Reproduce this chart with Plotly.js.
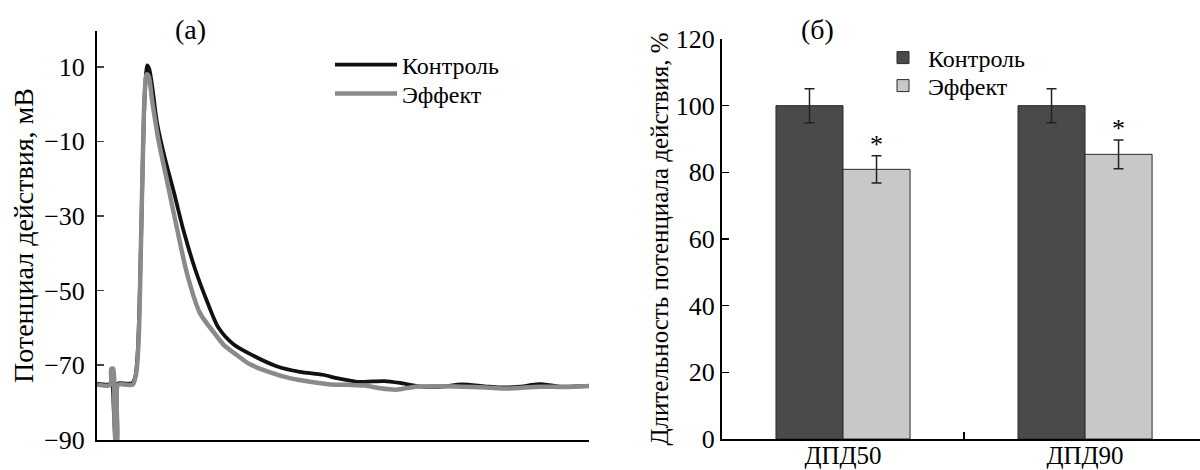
<!DOCTYPE html>
<html>
<head>
<meta charset="utf-8">
<script src="https://cdn.plot.ly/plotly-3.0.1.min.js"></script>
<style>html,body{margin:0;padding:0;background:#fff}#chart{width:1200px;height:470px}</style>
</head>
<body>
<div id="chart"></div>
<script>
// ---- Panel (a): action potential traces (time in relative units 0..100) ----
const controlT = [0, 2.9, 3.1, 3.4, 3.8, 4.0, 4.2, 6.0, 7.2, 7.8, 8.3, 8.7, 9.1, 9.5, 9.9, 10.2, 10.6, 11.2, 12.2, 13.7, 15.7, 17.6, 20.0, 22.4, 24.7, 27.8, 31.8, 36.5, 41.2, 45.9, 49.0, 52.9, 56.0, 58.4, 61.6, 65.5, 70.0, 74.1, 78.8, 82.0, 86.0, 89.8, 94.5, 100];
const controlV = [-75, -75, -72, -82, -90.5, -80, -75, -75, -74.8, -73, -66, -50, -28, -5, 7, 10.4, 9.5, 5, -5, -14, -24, -34, -44.5, -53, -60, -64.5, -67.5, -70.3, -71.8, -72.6, -73.6, -74.5, -74.4, -74.3, -74.8, -75.7, -75.8, -75.2, -75.7, -76, -75.8, -75.1, -75.8, -75.6];
const effectT = [0, 2.7, 2.9, 3.3, 3.5, 3.8, 4.1, 4.3, 6.0, 7.3, 8.0, 8.5, 8.9, 9.3, 9.7, 10.1, 10.5, 11.2, 12.5, 14.2, 16.2, 18.3, 20.9, 23.9, 25.7, 28.6, 31.1, 34.9, 39.2, 41.2, 44.0, 47.5, 51.0, 54.5, 57.5, 60.8, 64.7, 70.0, 74.1, 79.0, 83.5, 90.0, 95.0, 100];
const effectV = [-75.3, -75.3, -71, -71, -80, -90.5, -90.5, -75.3, -75.3, -75.2, -72, -62, -40, -15, 3, 8, 7.5, 1, -9.7, -20.4, -33, -45.5, -56, -61.5, -64.5, -67.5, -69.8, -71.8, -73.5, -74, -74.6, -75.2, -75.3, -75.5, -76.2, -76.6, -75.8, -75.7, -75.8, -76, -76.3, -75.8, -75.9, -75.6];
const yTicksA = [10, -10, -30, -50, -70, -90];

// ---- Panel (б): action potential duration, % ----
const categories = ['ДПД50', 'ДПД90'];
const controlPct = [100, 100];
const controlErr = [5.1, 5.1];
const effectPct = [80.9, 85.4];
const effectErr = [4.1, 4.3];
const significance = ['*', '*'];
const seriesNames = ['Контроль', 'Эффект'];
const yTicksB = [0, 20, 40, 60, 80, 100, 120];

const FONT = 'Liberation Serif, Times New Roman, serif';
const BARGAP = 0.446;
const effOffset = (1 - BARGAP) / 4;

const traces = [
  {x: controlT, y: controlV, type: 'scatter', mode: 'lines', name: seriesNames[0],
   line: {color: '#111111', width: 3.8, shape: 'spline', smoothing: 0.8}, xaxis: 'x', yaxis: 'y', legend: 'legend'},
  {x: effectT, y: effectV, type: 'scatter', mode: 'lines', name: seriesNames[1],
   line: {color: '#8a8a8a', width: 4.5, shape: 'spline', smoothing: 0.8}, xaxis: 'x', yaxis: 'y', legend: 'legend3'},
  {x: categories, y: controlPct, type: 'bar', name: seriesNames[0],
   marker: {color: '#4a4a4a', line: {color: '#2a2a2a', width: 1}},
   error_y: {type: 'data', array: controlErr, visible: true, color: '#222', thickness: 1.5, width: 5},
   xaxis: 'x2', yaxis: 'y2', legend: 'legend2'},
  {x: categories, y: effectPct, type: 'bar', name: seriesNames[1],
   marker: {color: '#c8c8c8', line: {color: '#2a2a2a', width: 1}},
   error_y: {type: 'data', array: effectErr, visible: true, color: '#222', thickness: 1.5, width: 5},
   xaxis: 'x2', yaxis: 'y2', legend: 'legend4'}
];

const annotations = [
  {text: '(a)', xref: 'paper', yref: 'paper', x: 190/1200, y: 1 - 30/470, xanchor: 'center', yanchor: 'middle',
   showarrow: false, font: {family: FONT, size: 28, color: '#000'}},
  {text: '(б)', xref: 'paper', yref: 'paper', x: 817/1200, y: 1 - 30/470, xanchor: 'center', yanchor: 'middle',
   showarrow: false, font: {family: FONT, size: 28, color: '#000'}}
];
categories.forEach((c, i) => {
  annotations.push({text: significance[i], xref: 'x2', yref: 'y2',
    x: i + effOffset, y: effectPct[i] + effectErr[i], yanchor: 'bottom', yshift: -5,
    showarrow: false, font: {family: FONT, size: 26, color: '#000'}});
});

function leg(x, y, size, iw) {
  return {x: x, y: y, xanchor: 'left', yanchor: 'middle', bgcolor: 'rgba(0,0,0,0)', borderwidth: 0,
    font: {family: FONT, size: size, color: '#000'}, itemwidth: iw, tracegroupgap: 0};
}

const layout = {
  width: 1200, height: 470,
  margin: {l: 0, r: 0, t: 0, b: 0},
  paper_bgcolor: '#fff', plot_bgcolor: '#fff',
  font: {family: FONT, color: '#000', size: 24},
  barmode: 'group', bargap: BARGAP, bargroupgap: 0,
  xaxis: {domain: [97/1200, 589/1200], range: [0, 100], showgrid: false, zeroline: false,
    showline: true, linecolor: '#000', linewidth: 2, ticks: 'inside', ticklen: 7,
    tickcolor: '#000', tickwidth: 1.5, tickvals: [0, 100], showticklabels: false},
  yaxis: {domain: [30/470, 439/470], range: [-90.1, 19.6], showgrid: false, zeroline: false,
    showline: true, linecolor: '#000', linewidth: 2, ticks: 'inside', ticklen: 7,
    tickcolor: '#444', tickwidth: 1.5, tickvals: yTicksA, ticklabelstandoff: 5,
    tickfont: {family: FONT, size: 26, color: '#000'},
    title: {text: 'Потенциал действия, мВ', standoff: 2, font: {family: FONT, size: 28, color: '#000'}}},
  xaxis2: {domain: [722/1200, 1], type: 'category', range: [-0.5, 1.475], showgrid: false,
    zeroline: false, showline: true, linecolor: '#000', linewidth: 2, ticks: 'inside',
    tickson: 'boundaries', ticklen: 7, tickcolor: '#000', tickwidth: 1.5, ticklabelstandoff: -7,
    tickfont: {family: FONT, size: 25, color: '#000'}, anchor: 'y2'},
  yaxis2: {domain: [31/470, 431/470], range: [0, 120], showgrid: false, zeroline: false,
    showline: true, linecolor: '#000', linewidth: 2, ticks: 'inside', ticklen: 7,
    tickcolor: '#000', tickwidth: 1.5, tickvals: yTicksB, anchor: 'x2',
    tickfont: {family: FONT, size: 26, color: '#000'},
    title: {text: 'Длительность потенциала действия, %', standoff: 0, font: {family: FONT, size: 25, color: '#000'}}},
  legend: leg(330/1200, 1 - 65/470, 24, 62),
  legend3: leg(330/1200, 1 - 94/470, 24, 62),
  legend2: leg(878/1200, 1 - 58/470, 24, 40),
  legend4: leg(878/1200, 1 - 86/470, 24, 40),
  annotations: annotations,
  showlegend: true
};

Plotly.newPlot('chart', traces, layout, {displayModeBar: false, staticPlot: true});
</script>
</body>
</html>
